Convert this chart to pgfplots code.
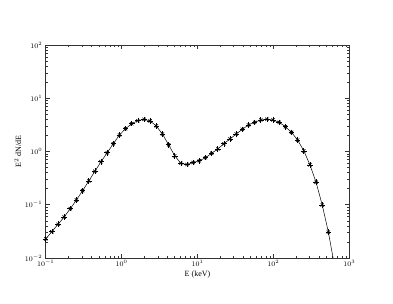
\documentclass[border=0pt]{standalone}
\usepackage{fontspec}
\setmainfont{Liberation Serif}
\usepackage{pgfplots}
\pgfplotsset{compat=1.18}
\pgfplotstableread{
x y
0.1 0.0228
0.1205 0.0312
0.1452 0.043
0.1750 0.0589
0.2109 0.0843
0.2541 0.1227
0.3062 0.1836
0.3690 0.279
0.4446 0.425
0.5357 0.643
0.6455 0.948
0.7779 1.40
0.9365 2.04
1.128 2.68
1.360 3.33
1.638 3.79
1.974 4.02
2.378 3.74
2.866 3.01
3.453 2.13
4.161 1.34
5.014 0.83
6.040 0.60
7.278 0.57
8.770 0.62
10.57 0.67
12.74 0.765
15.35 0.925
18.49 1.114
22.28 1.40
26.84 1.72
32.34 2.13
38.97 2.61
46.96 3.15
56.57 3.53
68.17 3.91
82.14 4.02
98.97 3.91
119.3 3.53
143.7 2.92
173.2 2.29
208.6 1.64
251.4 1.03
302.9 0.562
364.9 0.264
439.8 0.0988
529.9 0.0307
}\datatable
\pgfplotstableread{
x y
529.9 0.0307
611 0.0100
}\tailtable
\begin{document}
\begin{tikzpicture}[x=1pt,y=1pt]
\useasboundingbox (-45.7,-46) rectangle (347.3,258);
\begin{axis}[
  at={(0,0)}, anchor=south west,
  scale only axis, width=303.6pt, height=213pt,
  xmode=log, ymode=log,
  xmin=0.1, xmax=1000, ymin=0.01, ymax=100,
  axis line style={line width=0.7pt, black!80},
  tick style={black!80, line width=0.5pt},
  major tick length=4pt, minor tick length=2pt,
  tick align=inside,
  xtick={0.1,1,10,100,1000},
  ytick={0.01,0.1,1,10,100},
  tick label style={font=\fontsize{7.5}{8}\selectfont},
  xticklabel style={yshift=1pt},
  label style={font=\fontsize{8}{9}\selectfont},
  xlabel={E (keV)},
  ylabel={E$^2$ dN/dE},
  xlabel style={at={(axis description cs:0.5,-0.08)}, anchor=center},
  ylabel style={at={(axis description cs:-0.092,0.5)}, anchor=center},
]
\addplot[black, line width=0.5pt, mark=none] table[x=x,y=y] {\datatable};
\addplot[black, line width=0.5pt, mark=none] table[x=x,y=y] {\tailtable};
\addplot[only marks, mark=+, mark size=2.8pt, mark options={black, line width=0.6pt}] table[x=x,y=y] {\datatable};
\addplot[only marks, mark=x, mark size=2.3pt, mark options={black, line width=0.6pt}] table[x=x,y=y] {\datatable};
\end{axis}
\end{tikzpicture}
\end{document}
